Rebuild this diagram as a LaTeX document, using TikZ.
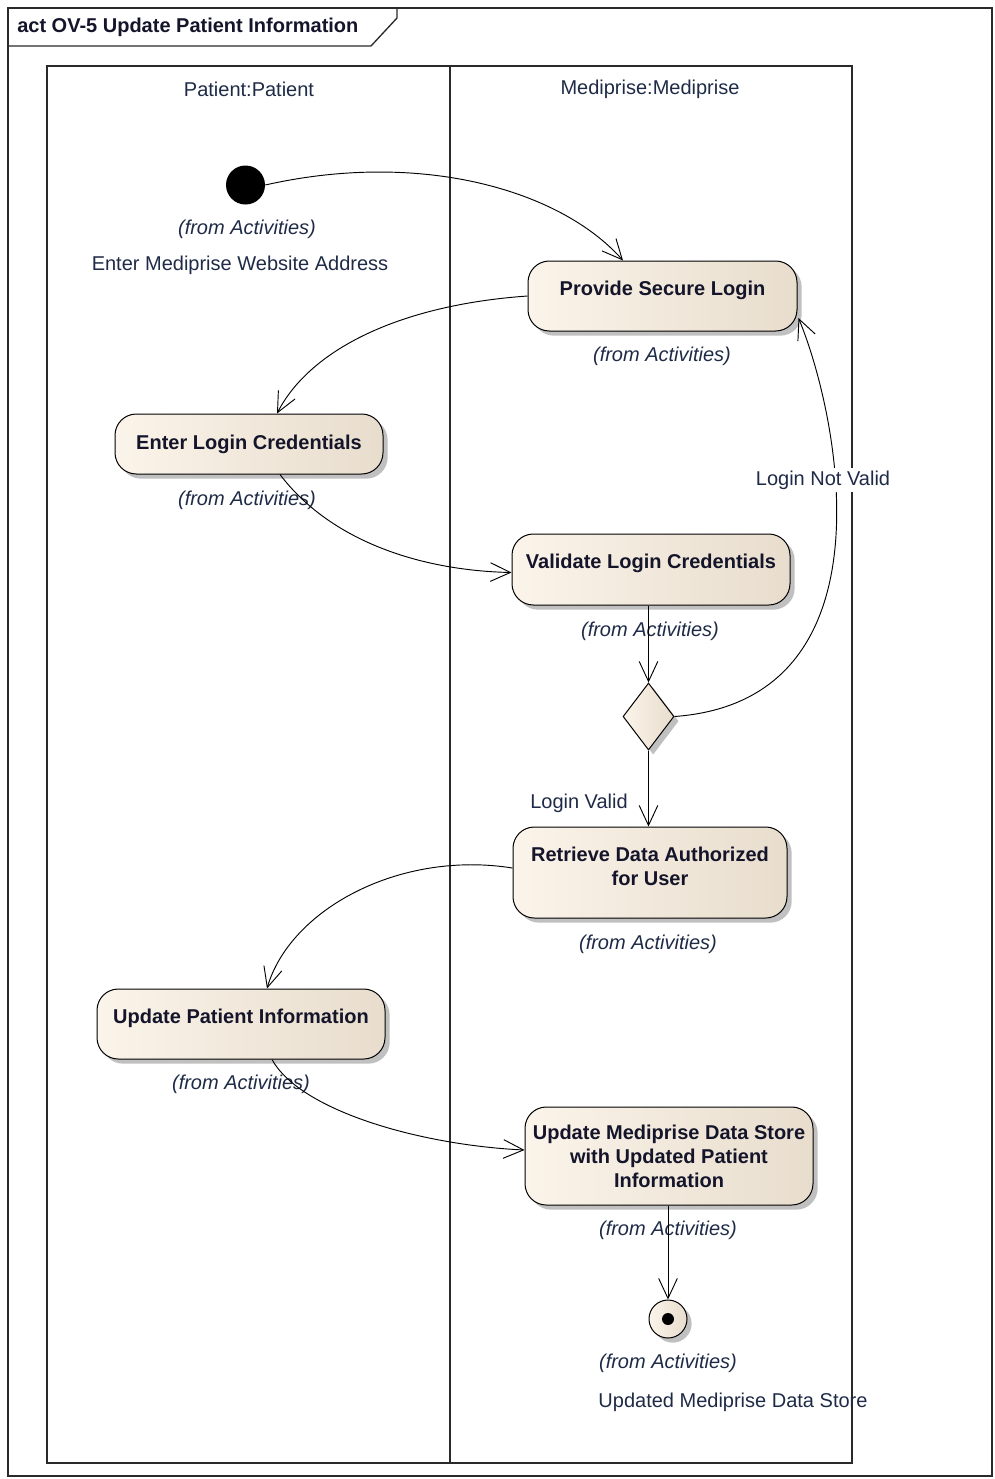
\documentclass[tikz,border=0pt]{standalone}
\usepackage{fontspec}
\setmainfont{Liberation Sans}
\usetikzlibrary{arrows.meta,shapes.geometric,shadows,calc}

\definecolor{actlight}{HTML}{FBF4EA}
\definecolor{actdark}{HTML}{E8DDCD}
\definecolor{framegray}{HTML}{2A2A2A}
\definecolor{labelink}{HTML}{1E2A46}
\definecolor{boldink}{HTML}{14142A}

\tikzset{
  x=0.75pt, y=-0.75pt,
  base font/.style={font=\fontsize{15}{18}\selectfont},
  eashadow/.style={drop shadow={shadow xshift=3.5pt, shadow yshift=-3.5pt, fill=black!45, opacity=0.55}},
  action/.style={draw=black, line width=0.75pt, rounded corners=16pt,
    left color=actlight, right color=actdark, eashadow,
    font=\fontsize{15}{18}\selectfont\bfseries, text=boldink,
    align=center, inner sep=2pt},
  lifted/.style={text depth=#1},
  decision/.style={diamond, draw=black, line width=0.75pt, inner sep=0pt,
    left color=actlight, right color=actdark, eashadow,
    minimum width=38.25pt, minimum height=50.25pt},
  startnode/.style={circle, fill=black, inner sep=0pt, minimum size=29.25pt},
  endnode/.style={circle, draw=black, line width=0.75pt, inner sep=0pt,
    left color=actlight, right color=actdark, eashadow, minimum size=28.5pt},
  note/.style={base font, text=labelink, inner sep=1pt},
  origin/.style={font=\fontsize{15}{18}\selectfont\itshape, text=labelink, inner sep=1pt},
  flow/.style={draw=black, line width=0.7pt, -{Straight Barb[length=15pt,width=14pt,line width=0.7pt]}},
  boundary/.style={draw=framegray, line width=1pt},
}

\begin{document}
\begin{tikzpicture}
\useasboundingbox (0,0) rectangle (995,1479);

% diagram frame and its name tab
\draw[boundary] (8,8) rectangle (992,1476);
\draw[boundary] (8,46) -- (371,46) -- (397,18) -- (397,8);
\node[anchor=west, inner sep=0pt, font=\fontsize{15}{18}\selectfont\bfseries, text=boldink]
  (title) at (17,27) {act OV-5 Update Patient Information};

% swimlanes
\draw[boundary] (47,66) rectangle (852,1463);
\draw[boundary] (450,66) -- (450,1463);
\node[note] (lanep) at (249,89) {Patient:Patient};
\node[note] (lanem) at (650,89) {Mediprise:Mediprise};

% activity nodes
\node[startnode] (init) at (245.5,185) {};
\node[origin] (fa1) at (247,229) {(from Activities)};
\node[note] (initname) at (240,265) {Enter Mediprise Website Address};

\node[action, lifted=12pt, minimum width=201.75pt, minimum height=52.5pt] (psl) at (662.5,296) {Provide Secure Login};
\node[origin] (fa2) at (662,356) {(from Activities)};

\node[action, minimum width=201pt, minimum height=45pt] (elc) at (249,444) {Enter Login Credentials};
\node[origin] (fa3) at (247,500) {(from Activities)};

\node[action, lifted=12pt, minimum width=208.5pt, minimum height=53.25pt] (vlc) at (651,569.5) {Validate Login Credentials};
\node[origin] (fa4) at (650,631) {(from Activities)};

\node[decision] (dec) at (648.5,716.5) {};

\node[action, lifted=10pt, minimum width=205.5pt, minimum height=68.25pt] (rda) at (650,872.5) {Retrieve Data Authorized\\for User};
\node[origin] (fa5) at (648,944) {(from Activities)};

\node[action, lifted=12pt, minimum width=216pt, minimum height=52.5pt] (upi) at (241,1024) {Update Patient Information};
\node[origin] (fa6) at (241,1084) {(from Activities)};

\node[action, minimum width=216pt, minimum height=73.5pt] (umd) at (669,1156) {Update Mediprise Data Store\\with Updated Patient\\Information};
\node[origin] (fa7) at (668,1230) {(from Activities)};

\node[endnode] (fin) at (668,1319) {};
\fill[black] (fin.center) circle (4.5pt);
\node[origin] (fa8) at (668,1363) {(from Activities)};
\node[note] (finname) at (733,1402) {Updated Mediprise Data Store};

% control flows
\draw[flow] (init.east) .. controls +(155,-35) and +(-63,-71) .. ($(psl.north)+(-39.5,0)$);
\draw[flow] (psl.west) .. controls +(-128,9) and +(33,-64) .. ($(elc.north)+(28,0)$);
\draw[flow] ($(elc.south)+(31,0)$) .. controls +(50,66) and +(-92,-2) .. ($(vlc.west)+(0,3)$);
\draw[flow] (dec.north |- vlc.south) -- (dec.north);
\draw[flow] (dec.east) .. controls +(220,-16) and +(42,102) .. ($(psl.east)+(1,22)$);
\draw[flow] (dec.south) -- (dec.south |- rda.north);
\node[note] (valid) at (579,803) {Login Valid};
\draw[flow] ($(rda.west)+(0,-4.5)$) .. controls +(-113,-18) and +(23,-79) .. ($(upi.north)+(26,0)$);
\draw[flow] ($(upi.south)+(31,0)$) .. controls +(28,51) and +(-105,-5) .. ($(umd.west)+(0,-6)$);
\draw[flow] (fin.north |- umd.south) -- (fin.north);

% guard label drawn over the loop and the lane line
\node[note, fill=white, inner sep=2pt] (notvalid) at (823,480) {Login Not Valid};
\end{tikzpicture}
\end{document}
